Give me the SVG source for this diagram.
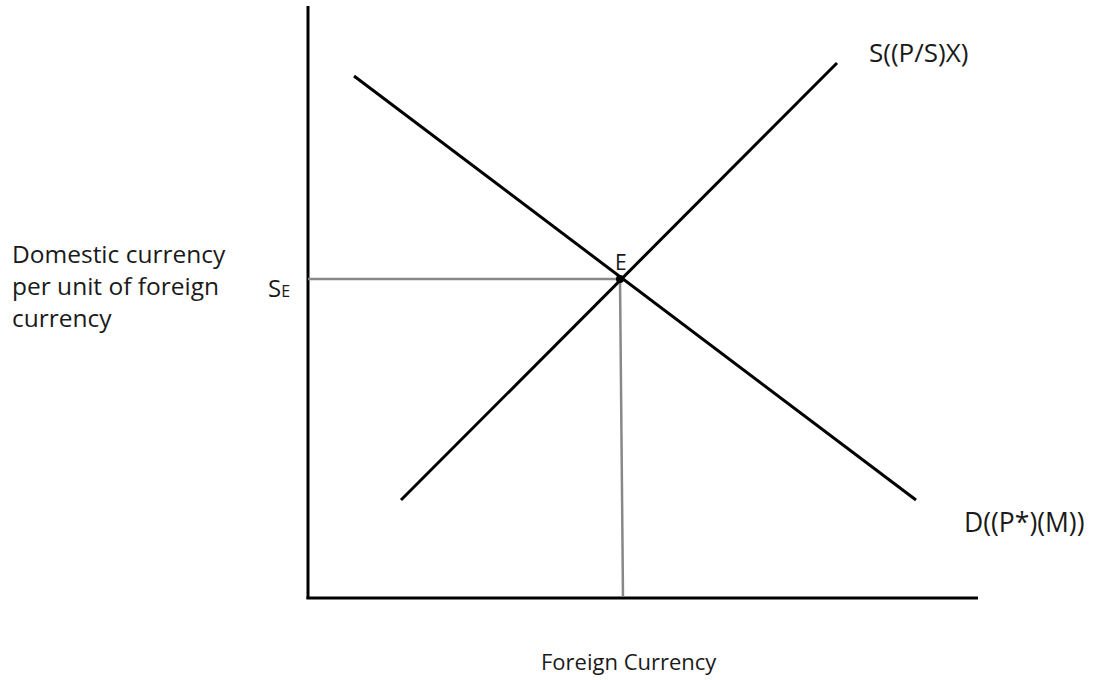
<svg xmlns="http://www.w3.org/2000/svg" width="1093" height="680" viewBox="0 0 1093 680">
<style>
text{font-family:"Open Sans","Liberation Sans",sans-serif;fill:#1a1a1a}
.lbl{font-size:24.5px}
.axis{stroke:#000;stroke-width:3;fill:none}
.curve{stroke:#000;stroke-width:3;fill:none}
.guide{stroke:#888;stroke-width:2.5;fill:none}
</style>
<rect width="1093" height="680" fill="#fff"/>
<g id="axes">
<line class="axis" x1="308" y1="6" x2="308" y2="599"/>
<line class="axis" x1="306.5" y1="598" x2="978" y2="598"/>
</g>
<g id="connectors">
<line class="guide" x1="308" y1="279" x2="620" y2="279"/>
<line class="guide" x1="620" y1="279" x2="623" y2="597"/>
<line class="curve" x1="354" y1="76" x2="916" y2="500"/>
<line class="curve" x1="401" y1="500" x2="837" y2="63"/>
</g>
<g id="E">
<circle cx="620" cy="279" r="4" fill="#000"/>
<text x="615" y="270" font-size="21">E</text>
</g>
<g id="supply-label"><text x="869" y="62" font-size="26">S((P/S)X)</text></g>
<g id="demand-label"><text x="964" y="532" font-size="26.5">D((P*)(M))</text></g>
<g id="ylabel">
<text class="lbl" x="12" y="263">Domestic currency</text>
<text class="lbl" x="12" y="295">per unit of foreign</text>
<text class="lbl" x="12" y="327">currency</text>
</g>
<g id="SE"><text x="268" y="297" font-size="24">S<tspan font-size="16">E</tspan></text></g>
<g id="xlabel"><text x="541" y="670" font-size="22">Foreign Currency</text></g>
</svg>
